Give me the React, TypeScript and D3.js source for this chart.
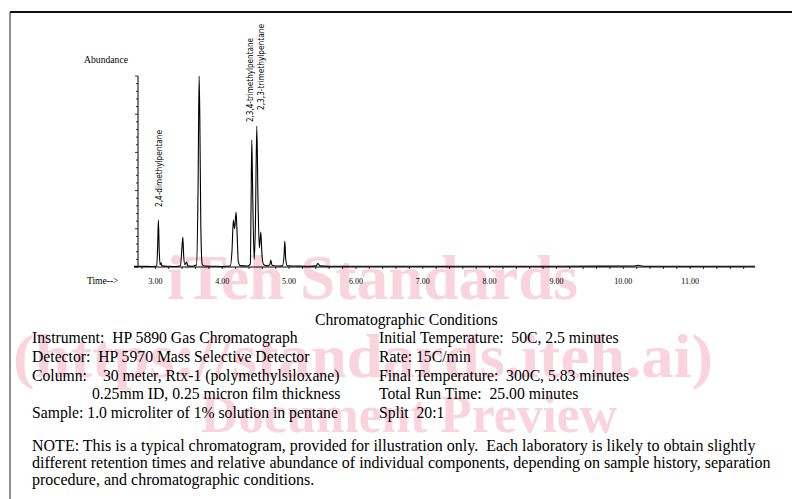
import * as d3 from "d3";

// chromatogram trace (minutes, % of full scale)
const traceTime = [
  2.68, 2.8, 2.95, 3.02, 3.033, 3.045, 3.057, 3.07, 3.085, 3.1, 3.2, 3.3, 3.375, 3.397, 3.41, 3.423, 3.44,
  3.465, 3.485, 3.55, 3.615, 3.638, 3.654, 3.664, 3.68, 3.7, 3.73, 3.85, 4.0, 4.12, 4.145, 4.167, 4.185,
  4.207, 4.222, 4.24, 4.27, 4.38, 4.42, 4.432, 4.442, 4.455, 4.478, 4.495, 4.517, 4.535, 4.555, 4.577,
  4.595, 4.62, 4.68, 4.712, 4.726, 4.745, 4.8, 4.9, 4.925, 4.936, 4.95, 4.975, 5.1, 5.3, 5.41, 5.43, 5.46,
  5.6, 6.0, 7.0, 8.0, 9.0, 10.15, 10.22, 10.3, 11.0, 11.97,
];
const traceAbundance = [
  0.3, 0.4, 0.3, 0.5, 10, 24.6, 9, 1.2, 2.2, 0.6, 0.4, 0.3, 0.7, 10, 15.7, 6, 1.2,
  2.6, 0.6, 0.4, 1.0, 40, 100, 80, 20, 1.5, 0.5, 0.4, 0.3, 0.5, 8, 24.6, 20,
  28.8, 18, 3, 0.7, 0.5, 1.5, 35, 66.5, 40, 4, 20, 73.8, 35, 10, 18.3,
  6, 1.2, 0.6, 1.2, 3.7, 0.9, 0.5, 0.6, 6, 13.6, 4, 0.6, 0.5, 0.4, 0.6, 2.0, 0.6,
  0.4, 0.4, 0.4, 0.4, 0.4, 0.5, 0.9, 0.4, 0.4, 0.4,
];

const xTickValues = [3, 4, 5, 6, 7, 8, 9, 10, 11];
const xTickLabels = ["3.00", "4.00", "5.00", "6.00", "7.00", "8.00", "9.00", "10.00", "11.00"];

const peakNames = ["2,4-dimethylpentane", "2,3,4-trimethylpentane", "2,3,3-trimethylpentane"];
const peakLabelTimes = [3.055, 4.417, 4.58];
const peakLabelBase = [31.4, 75.9, 82.2];

const conditionsTitle = "Chromatographic Conditions";
const leftLines = [
  "Instrument:  HP 5890 Gas Chromatograph",
  "Detector:  HP 5970 Mass Selective Detector",
  "Column:",
  "",
  "Sample: 1.0 microliter of 1% solution in pentane",
];
const columnLines = ["30 meter, Rtx-1 (polymethylsiloxane)", "0.25mm ID, 0.25 micron film thickness"];
const rightLines = [
  "Initial Temperature:  50C, 2.5 minutes",
  "Rate: 15C/min",
  "Final Temperature:  300C, 5.83 minutes",
  "Total Run Time:  25.00 minutes",
  "Split  20:1",
];
const noteLines = [
  "NOTE: This is a typical chromatogram, provided for illustration only.  Each laboratory is likely to obtain slightly",
  "different retention times and relative abundance of individual components, depending on sample history, separation",
  "procedure, and chromatographic conditions.",
];
const watermark = ["iTeh Standards", "(https://standards.iteh.ai)", "Document Preview"];

const W = 797;
const H = 499;
const serif = "'Liberation Serif', 'Times New Roman', serif";
const narrow = "'Liberation Sans Narrow', 'DejaVu Sans Condensed', 'Arial Narrow', sans-serif";
const pink = "#f9d3dd";

// keep the double spaces of the typed original
const keep = (s: string) => s.replace(/  /g, "\u00a0 ");

export default function App() {
  const x = d3.scaleLinear().domain([2.68, 11.97]).range([134, 755]);
  const y = d3.scaleLinear().domain([0, 100]).range([267, 76]);

  const points: [number, number][] = traceTime.map((t, i) => [t, traceAbundance[i]]);
  const line = d3
    .line<[number, number]>()
    .x((d) => x(d[0]))
    .y((d) => y(d[1]))
    .curve(d3.curveMonotoneX);

  const minorX = d3.range(2.8, 11.95, 0.2);
  const yTicks = d3.range(0, 101, 4);
  const yAxisX = x(2.74);

  const rowY = [343, 362, 381, 399, 418];
  const columnX = [103, 92];

  return (
    <svg
      width={W}
      height={H}
      style={{ position: "absolute", left: 0, top: 0, background: "#fff" }}
    >
      {/* watermark */}
      <g fill={pink} fontFamily={serif} fontWeight="bold">
        <text x={167} y={299} fontSize={63} textLength={411} lengthAdjust="spacingAndGlyphs">
          {watermark[0]}
        </text>
        <text x={13} y={377} fontSize={62} textLength={700} lengthAdjust="spacingAndGlyphs">
          {watermark[1]}
        </text>
        <text x={201} y={432} fontSize={52} textLength={416} lengthAdjust="spacingAndGlyphs">
          {watermark[2]}
        </text>
      </g>

      {/* page frame */}
      <line x1={10} x2={792} y1={12} y2={12} stroke="#111" strokeWidth={2} />
      <line x1={10} x2={10} y1={12} y2={H} stroke="#222" strokeWidth={1} />

      {/* axes */}
      <line x1={134} x2={755} y1={y(0)} y2={y(0)} stroke="#000" strokeWidth={1} />
      <line x1={yAxisX} x2={yAxisX} y1={y(100)} y2={y(0)} stroke="#000" strokeWidth={1} />
      {yTicks.map((v, i) => (
        <line
          key={"yt" + i}
          x1={yAxisX - (i % 5 === 0 ? 3 : 2)}
          x2={yAxisX}
          y1={y(v)}
          y2={y(v)}
          stroke="#000"
          strokeWidth={0.8}
        />
      ))}
      {minorX.map((t, i) => (
        <line key={"xt" + i} x1={x(t)} x2={x(t)} y1={y(0)} y2={y(0) + 2} stroke="#000" strokeWidth={0.8} />
      ))}
      {xTickValues.map((t, i) => (
        <text key={"xl" + i} x={x(t)} y={284} fontSize={8} fontFamily={serif} textAnchor="middle" fill="#000">
          {xTickLabels[i]}
        </text>
      ))}
      <text x={87} y={284} fontSize={9.5} fontFamily={serif} fill="#000">
        Time--&gt;
      </text>
      <text x={84} y={63} fontSize={9.5} fontFamily={serif} fill="#000" textLength={44} lengthAdjust="spacingAndGlyphs">
        Abundance
      </text>

      {/* trace */}
      <path d={line(points) || ""} fill="none" stroke="#000" strokeWidth={1.1} strokeLinejoin="round" />

      {/* peak labels */}
      {peakNames.map((name, i) => (
        <text
          key={name}
          transform={`translate(${x(peakLabelTimes[i])},${y(peakLabelBase[i])}) rotate(-90)`}
          dy="0.35em"
          fontSize={8}
          fontFamily={narrow}
          fill="#000"
          textLength={i === 0 ? 77 : i === 1 ? 84 : 86}
          lengthAdjust="spacingAndGlyphs"
        >
          {name}
        </text>
      ))}

      {/* conditions */}
      <g fontFamily={serif} fontSize={15.7} fill="#000">
        <text x={315} y={325}>{conditionsTitle}</text>
        {leftLines.map((s, i) =>
          s ? (
            <text key={"l" + i} x={32} y={rowY[i]}>
              {keep(s)}
            </text>
          ) : null
        )}
        {columnLines.map((s, i) => (
          <text key={"c" + i} x={columnX[i]} y={rowY[2 + i]}>
            {s}
          </text>
        ))}
        {rightLines.map((s, i) => (
          <text key={"r" + i} x={379} y={rowY[i]}>
            {keep(s)}
          </text>
        ))}
      </g>
      <g fontFamily={serif} fontSize={16} fill="#000">
        {noteLines.map((s, i) => (
          <text key={"n" + i} x={32} y={451 + i * 17}>
            {keep(s)}
          </text>
        ))}
      </g>
    </svg>
  );
}
